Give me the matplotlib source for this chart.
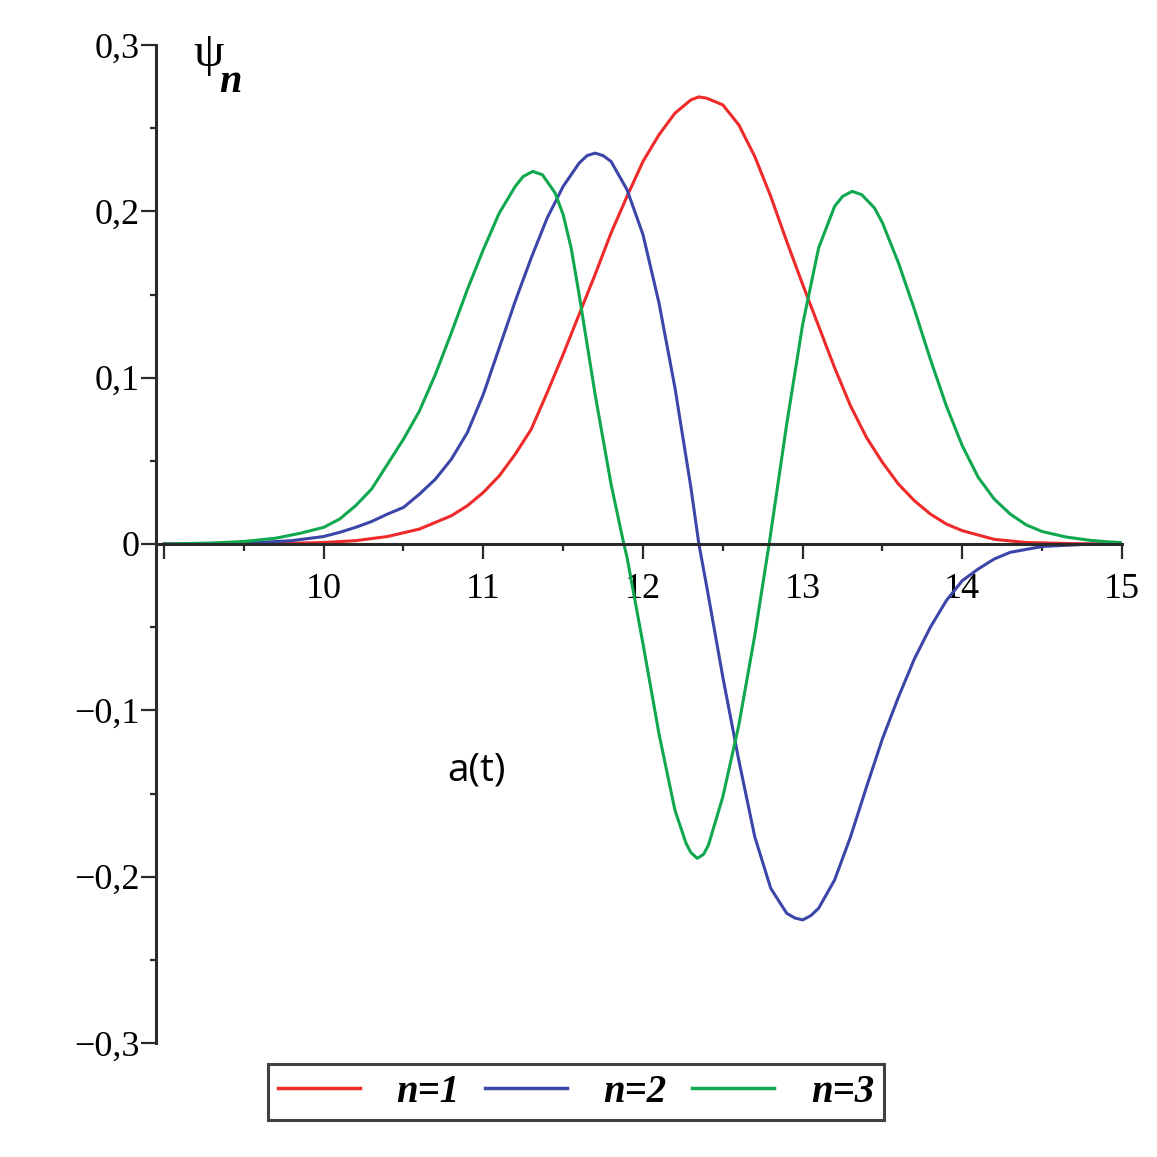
import matplotlib
matplotlib.use("Agg")
import matplotlib.pyplot as plt
from matplotlib.ticker import MultipleLocator, FixedLocator, FuncFormatter

# n=1 (red)
x_n1 = [9.0, 9.5, 9.8, 10.0, 10.2, 10.4, 10.6, 10.8, 10.9, 11.0, 11.1, 11.2, 11.3, 11.4,
        11.5, 11.6, 11.7, 11.8, 11.9, 12.0, 12.1, 12.2, 12.3, 12.35, 12.4, 12.5, 12.6,
        12.7, 12.8, 12.9, 13.0, 13.1, 13.2, 13.3, 13.4, 13.5, 13.6, 13.7, 13.8, 13.9,
        14.0, 14.2, 14.4, 14.7, 15.0]
y_n1 = [0.0, 0.0001, 0.0004, 0.0009, 0.002, 0.0045, 0.009, 0.017, 0.023, 0.031, 0.041, 0.054,
        0.069, 0.091, 0.114, 0.138, 0.162, 0.187, 0.209, 0.230, 0.246, 0.259, 0.267, 0.2688,
        0.268, 0.264, 0.252, 0.233, 0.209, 0.182, 0.156, 0.131, 0.106, 0.083, 0.064, 0.049,
        0.036, 0.026, 0.018, 0.012, 0.008, 0.0028, 0.0009, 0.0002, 0.0]

# n=2 (blue)
x_n2 = [9.0, 9.5, 9.8, 10.0, 10.1, 10.2, 10.3, 10.4, 10.5, 10.6, 10.7, 10.8, 10.9, 11.0,
        11.1, 11.2, 11.3, 11.4, 11.5, 11.6, 11.65, 11.7, 11.75, 11.8, 11.9, 12.0, 12.1,
        12.2, 12.3, 12.35, 12.4, 12.5, 12.6, 12.7, 12.8, 12.9, 12.95, 13.0, 13.05, 13.1,
        13.2, 13.3, 13.4, 13.5, 13.6, 13.7, 13.8, 13.9, 14.0, 14.1, 14.2, 14.3, 14.5,
        14.75, 15.0]
y_n2 = [0.0, 0.0004, 0.002, 0.0045, 0.007, 0.010, 0.0135, 0.018, 0.022, 0.030, 0.039, 0.051,
        0.067, 0.090, 0.118, 0.146, 0.172, 0.196, 0.215, 0.229, 0.2335, 0.235, 0.2335, 0.230,
        0.213, 0.186, 0.145, 0.094, 0.034, 0.0, -0.026, -0.080, -0.130, -0.176, -0.207,
        -0.222, -0.2248, -0.226, -0.2235, -0.219, -0.202, -0.176, -0.146, -0.117, -0.092,
        -0.069, -0.050, -0.034, -0.022, -0.015, -0.009, -0.005, -0.0015, -0.0003, 0.0]

# n=3 (green)
x_n3 = [9.0, 9.3, 9.5, 9.7, 9.85, 10.0, 10.1, 10.2, 10.3, 10.4, 10.5, 10.6, 10.7, 10.8,
        10.9, 11.0, 11.1, 11.2, 11.25, 11.31, 11.37, 11.45, 11.5, 11.55, 11.6, 11.7, 11.8,
        11.88, 11.9, 12.0, 12.1, 12.2, 12.27, 12.3, 12.34, 12.38, 12.41, 12.5, 12.6, 12.7,
        12.79, 12.9, 13.0, 13.1, 13.2, 13.25, 13.31, 13.37, 13.45, 13.5, 13.6, 13.7, 13.8,
        13.9, 14.0, 14.1, 14.2, 14.3, 14.4, 14.5, 14.65, 14.8, 14.9, 15.0]
y_n3 = [0.0, 0.0006, 0.0015, 0.0035, 0.0064, 0.010, 0.015, 0.023, 0.033, 0.048, 0.063, 0.080,
        0.102, 0.127, 0.153, 0.177, 0.199, 0.215, 0.221, 0.224, 0.222, 0.211, 0.198, 0.178,
        0.150, 0.090, 0.036, 0.0, -0.008, -0.060, -0.114, -0.160, -0.180, -0.1855, -0.189,
        -0.1865, -0.181, -0.152, -0.109, -0.055, 0.0, 0.072, 0.132, 0.178, 0.203, 0.209,
        0.212, 0.210, 0.202, 0.193, 0.169, 0.141, 0.111, 0.083, 0.059, 0.040, 0.027, 0.018,
        0.0115, 0.0075, 0.0042, 0.0022, 0.0014, 0.0008]

labels = ["n=1", "n=2", "n=3"]
colors = ["#ee2a2a", "#3c46a8", "#10a84e"]

W = 1157
fig = plt.figure(figsize=[11.57, 11.57], dpi=100)
ax = fig.add_axes([156 / W, 1 - 1043 / W, (1122 - 156) / W, (1043 - 45) / W])

for xs, ys, c, lab in zip([x_n1, x_n2, x_n3], [y_n1, y_n2, y_n3], colors, labels):
    ax.plot(xs, ys, color=c, lw=2.2, label=lab, solid_joinstyle="round")

ax.set_xlim(8.95, 15)
ax.set_ylim(-0.3, 0.3)

# 軸の見た目 (Maple風)
ax.spines["top"].set_visible(False)
ax.spines["right"].set_visible(False)
ax.spines["bottom"].set_position(("data", 0))
for s in ["left", "bottom"]:
    ax.spines[s].set_linewidth(2.2)
    ax.spines[s].set_color("#2a2a2a")

ax.xaxis.set_major_locator(FixedLocator([9, 10, 11, 12, 13, 14, 15]))
ax.xaxis.set_minor_locator(FixedLocator([9.5, 10.5, 11.5, 12.5, 13.5, 14.5]))
ax.yaxis.set_major_locator(MultipleLocator(0.1))
ax.yaxis.set_minor_locator(MultipleLocator(0.05))

ax.xaxis.set_major_formatter(FuncFormatter(lambda v, p: "" if abs(v - 9) < 1e-6 else "%d" % round(v)))


def yfmt(v, p):
    if abs(v) < 1e-9:
        return "0"
    s = "%.1f" % v
    return s.replace(".", ",").replace("-", "\u2212")


ax.yaxis.set_major_formatter(FuncFormatter(yfmt))

ax.tick_params(axis="x", which="major", direction="out", length=11, width=1.6, pad=10,
               labelsize=26, color="#2a2a2a")
ax.tick_params(axis="x", which="minor", direction="out", length=5, width=1.6, color="#2a2a2a")
ax.tick_params(axis="y", which="major", direction="out", length=11, width=1.6, pad=1,
               labelsize=26, color="#2a2a2a")
ax.tick_params(axis="y", which="minor", direction="out", length=4.5, width=1.6, color="#2a2a2a")
for lab in ax.get_xticklabels() + ax.get_yticklabels():
    lab.set_family("Liberation Serif")

# 軸ラベル
fig.text(209 / W, 1 - 54 / W, "\u03c8", family="Liberation Serif", fontsize=35,
         ha="center", va="center")
fig.text(230 / W, 1 - 82 / W, "n", family="Liberation Serif", style="italic",
         weight="bold", fontsize=29, ha="center", va="center")
ax.text(10.96, -0.136, "a(t)", family="Open Sans", fontsize=28, ha="center", va="center")

# 凡例
leg = fig.legend(loc="center", bbox_to_anchor=(576 / W, 1 - 1092 / W), ncol=3,
                 prop={"family": "Liberation Serif", "style": "italic", "weight": "bold", "size": 28},
                 frameon=True, fancybox=False, edgecolor="#111111", handlelength=2.1,
                 handletextpad=0.95, columnspacing=0.65, borderpad=0.25, borderaxespad=0)
leg.get_frame().set_linewidth(2.2)
for line in leg.get_lines():
    line.set_linewidth(2.5)

plt.savefig("out.png", dpi=100)
